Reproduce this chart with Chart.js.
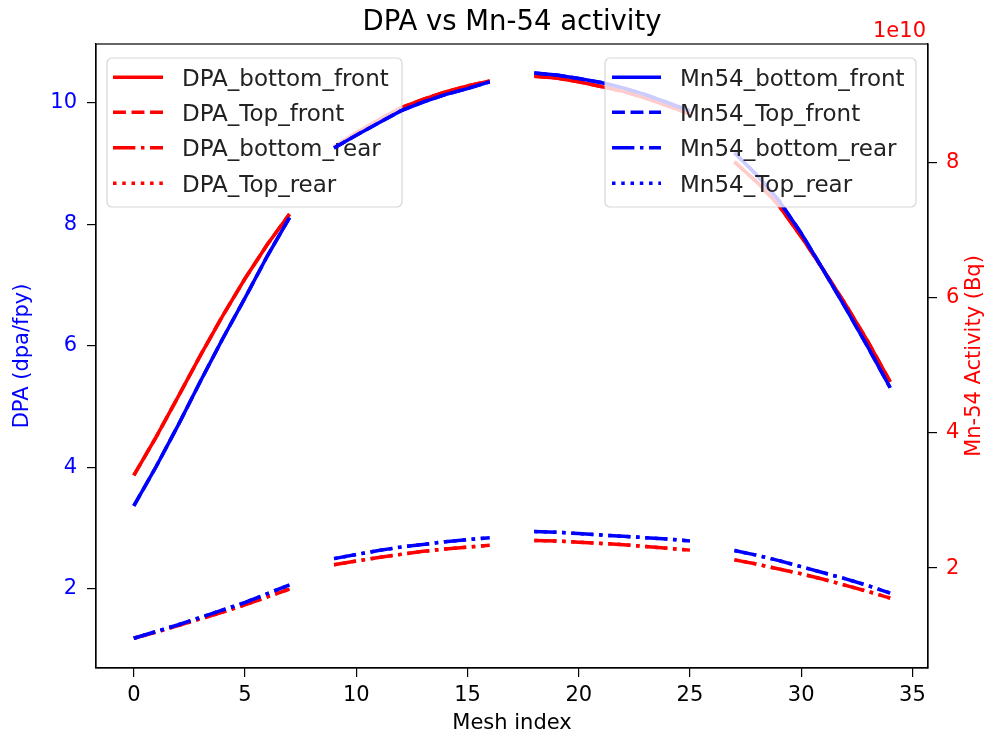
<!DOCTYPE html>
<html><head><meta charset="utf-8">
<script src="https://cdn.jsdelivr.net/npm/chart.js@4.4.1/dist/chart.umd.min.js"></script>
<style>html,body{margin:0;padding:0;background:#fff;}#wrap{width:990px;height:737px;}</style>
</head><body><div id="wrap"><canvas id="c" width="990" height="737"></canvas></div>
<script>
// ---- data ----
const meshIndex = [0,1,2,3,4,5,6,7,8,9,10,11,12,13,14,15,16,17,18,19,20,21,22,23,24,25,26,27,28,29,30,31,32,33,34];
const dpaBottomFront = [3.87,4.50,5.17,5.85,6.50,7.11,7.67,8.17,null,9.28,9.51,9.72,9.92,10.06,10.18,10.28,10.36,null,10.44,10.41,10.35,10.27,10.19,10.08,9.95,9.82,null,9.03,8.70,8.31,7.80,7.25,6.68,6.07,5.41];
const dpaTopFront    = [3.87,4.50,5.17,5.85,6.50,7.11,7.67,8.17,null,9.28,9.51,9.72,9.92,10.06,10.18,10.28,10.36,null,10.44,10.41,10.35,10.27,10.19,10.08,9.95,9.82,null,9.03,8.70,8.31,7.80,7.25,6.68,6.07,5.41];
const dpaBottomRear  = [1.19,1.29,1.40,1.51,1.62,1.74,1.87,2.00,null,2.40,2.46,2.52,2.57,2.62,2.66,2.69,2.72,null,2.80,2.79,2.77,2.75,2.73,2.70,2.67,2.64,null,2.48,2.41,2.33,2.25,2.16,2.06,1.96,1.85];
const dpaTopRear     = [1.19,1.29,1.40,1.51,1.62,1.74,1.87,2.00,null,2.40,2.46,2.52,2.57,2.62,2.66,2.69,2.72,null,2.80,2.79,2.77,2.75,2.73,2.70,2.67,2.64,null,2.48,2.41,2.33,2.25,2.16,2.06,1.96,1.85];
const mn54BottomFront = [2.92e10,3.50e10,4.12e10,4.77e10,5.40e10,6.00e10,6.62e10,7.19e10,null,8.22e10,8.41e10,8.59e10,8.77e10,8.90e10,9.01e10,9.10e10,9.20e10,null,9.33e10,9.30e10,9.25e10,9.19e10,9.11e10,9.01e10,8.89e10,8.77e10,null,8.15e10,7.82e10,7.44e10,6.96e10,6.41e10,5.85e10,5.27e10,4.67e10];
const mn54TopFront    = [2.92e10,3.50e10,4.12e10,4.77e10,5.40e10,6.00e10,6.62e10,7.19e10,null,8.22e10,8.41e10,8.59e10,8.77e10,8.90e10,9.01e10,9.10e10,9.20e10,null,9.33e10,9.30e10,9.25e10,9.19e10,9.11e10,9.01e10,8.89e10,8.77e10,null,8.15e10,7.82e10,7.44e10,6.96e10,6.41e10,5.85e10,5.27e10,4.67e10];
const mn54BottomRear  = [0.96e10,1.06e10,1.16e10,1.27e10,1.38e10,1.49e10,1.62e10,1.75e10,null,2.14e10,2.20e10,2.26e10,2.31e10,2.35e10,2.39e10,2.42e10,2.45e10,null,2.54e10,2.53e10,2.51e10,2.49e10,2.47e10,2.45e10,2.43e10,2.40e10,null,2.26e10,2.19e10,2.11e10,2.02e10,1.93e10,1.84e10,1.74e10,1.63e10];
const mn54TopRear     = [0.96e10,1.06e10,1.16e10,1.27e10,1.38e10,1.49e10,1.62e10,1.75e10,null,2.14e10,2.20e10,2.26e10,2.31e10,2.35e10,2.39e10,2.42e10,2.45e10,null,2.54e10,2.53e10,2.51e10,2.49e10,2.47e10,2.45e10,2.43e10,2.40e10,null,2.26e10,2.19e10,2.11e10,2.02e10,1.93e10,1.84e10,1.74e10,1.63e10];
const xTickValues = [0,5,10,15,20,25,30,35];
const dpaTickValues = [2,4,6,8,10];
const mn54TickValues = [2e10,4e10,6e10,8e10];
const dpaLabels = ['DPA_bottom_front','DPA_Top_front','DPA_bottom_rear','DPA_Top_rear'];
const mn54Labels = ['Mn54_bottom_front','Mn54_Top_front','Mn54_bottom_rear','Mn54_Top_rear'];

// ---- styles ----
const FONT = '"DejaVu Sans", sans-serif';
const K = 2.33; // px per pt
const LW = 1.5 * K;
const DASH = {
  solid: [],
  dashed: [3.7*1.5*K, 1.6*1.5*K],
  dashdot: [6.4*1.5*K, 1.6*1.5*K, 1*1.5*K, 1.6*1.5*K],
  dotted: [1*1.5*K, 1.65*1.5*K]
};
const styles = ['solid','dashed','dashdot','dotted'];
const RED = '#ff0000', BLUE = '#0000ff';

function pts(arr){ return meshIndex.map((x,i)=>({x:x, y:arr[i]})); }

const dpaSeries = [dpaBottomFront, dpaTopFront, dpaBottomRear, dpaTopRear];
const mnSeries = [mn54BottomFront, mn54TopFront, mn54BottomRear, mn54TopRear];
const datasets = [];
dpaSeries.forEach((s,i)=>datasets.push({label:dpaLabels[i], data:pts(s), yAxisID:'y', borderColor:RED, borderDash:DASH[styles[i]], order:7-i, group:'dpa'}));
mnSeries.forEach((s,i)=>datasets.push({label:mn54Labels[i], data:pts(s), yAxisID:'y2', borderColor:BLUE, borderDash:DASH[styles[i]], order:3-i, group:'mn'}));

function drawLegend(ctx, chart, group, box){
  const items = chart.data.datasets.filter(d=>d.group===group);
  ctx.save();
  const r = 5;
  ctx.beginPath();
  ctx.moveTo(box.x0+r, box.y0);
  ctx.arcTo(box.x1, box.y0, box.x1, box.y1, r);
  ctx.arcTo(box.x1, box.y1, box.x0, box.y1, r);
  ctx.arcTo(box.x0, box.y1, box.x0, box.y0, r);
  ctx.arcTo(box.x0, box.y0, box.x1, box.y0, r);
  ctx.closePath();
  ctx.fillStyle = 'rgba(255,255,255,0.8)';
  ctx.fill();
  ctx.strokeStyle = 'rgba(204,204,204,0.8)';
  ctx.lineWidth = 1.2;
  ctx.stroke();
  items.forEach((d,i)=>{
    const y = box.rows[i];
    ctx.strokeStyle = d.borderColor;
    ctx.lineWidth = LW;
    ctx.lineCap = 'butt';
    ctx.setLineDash(d.borderDash);
    ctx.beginPath(); ctx.moveTo(box.hx0, y); ctx.lineTo(box.hx1, y); ctx.stroke();
    ctx.setLineDash([]);
    ctx.fillStyle = '#222';
    ctx.font = '23px ' + FONT;
    ctx.textBaseline = 'alphabetic';
    ctx.textAlign = 'left';
    ctx.fillText(d.label, box.tx, y + 8.4);
  });
  ctx.restore();
}
const rows = [77.3, 112.3, 147.7, 183.3];
const leftBox = {x0:107, x1:402, y0:58, y1:207, hx0:113, hx1:163, tx:182, rows:rows};
const rightBox = {x0:605, x1:916, y0:58, y1:207, hx0:612, hx1:661, tx:680, rows:rows};

let dpaLegendDone = false;
const decor = {
  id:'decor',
  beforeDatasetsDraw(chart){ dpaLegendDone = false; },
  beforeDatasetDraw(chart, args){
    const ds = chart.data.datasets[args.index];
    if (ds.group === 'mn' && !dpaLegendDone){
      dpaLegendDone = true;
      drawLegend(chart.ctx, chart, 'dpa', leftBox);
    }
  },
  afterDatasetsDraw(chart){
    const ctx = chart.ctx;
    if (!dpaLegendDone){ drawLegend(ctx, chart, 'dpa', leftBox); dpaLegendDone = true; }
    drawLegend(ctx, chart, 'mn', rightBox);
    const a = chart.chartArea;
    ctx.save();
    ctx.strokeStyle = '#000'; ctx.lineWidth = 1.2; ctx.setLineDash([]);
    ctx.strokeRect(a.left, a.top, a.right-a.left, a.bottom-a.top);
    // title
    ctx.fillStyle = '#000';
    ctx.font = '27.5px ' + FONT;
    ctx.textAlign = 'center'; ctx.textBaseline = 'alphabetic';
    ctx.fillText('DPA vs Mn-54 activity', (a.left+a.right)/2, 30);
    // offset text
    ctx.fillStyle = RED;
    ctx.font = '21px ' + FONT;
    ctx.textAlign = 'right';
    ctx.fillText('1e10', a.right - 2, 37);
    // right axis title
    ctx.translate(975, (a.top+a.bottom)/2);
    ctx.rotate(-Math.PI/2);
    ctx.textAlign = 'center'; ctx.textBaseline = 'middle';
    ctx.fillText('Mn-54 Activity (Bq)', 0, 0);
    ctx.restore();
  }
};

const tickGrid = {display:true, drawOnChartArea:false, drawTicks:true, tickLength:9, color:'#000', lineWidth:1.2};
new Chart(document.getElementById('c'), {
  type:'line',
  data:{datasets:datasets},
  options:{
    responsive:false, animation:false, devicePixelRatio:1,
    layout:{padding:{top:44,left:0,right:0,bottom:0}},
    plugins:{legend:{display:false}, title:{display:false}, tooltip:{enabled:false}},
    elements:{point:{radius:0,hoverRadius:0}, line:{tension:0, borderWidth:LW, borderCapStyle:'butt', fill:false}},
    spanGaps:false,
    scales:{
      x:{type:'linear', min:-1.7, max:35.7,
        afterBuildTicks:s=>{ s.ticks = xTickValues.map(v=>({value:v})); },
        afterFit:s=>{ s.height = 69; },
        grid:tickGrid, border:{display:true,color:'#000',width:1.2},
        ticks:{color:'#000', font:{family:FONT,size:21}, padding:6, maxRotation:0, callback:v=>String(v)},
        title:{display:true, text:'Mesh index', color:'#000', font:{family:FONT,size:21}, padding:{top:0,bottom:1}}
      },
      y:{type:'linear', position:'left', min:0.70, max:10.97,
        afterBuildTicks:s=>{ s.ticks = dpaTickValues.map(v=>({value:v})); },
        afterFit:s=>{ s.width = 96; },
        grid:tickGrid, border:{display:true,color:'#000',width:1.2},
        ticks:{color:BLUE, font:{family:FONT,size:21}, padding:10, callback:v=>String(v)},
        title:{display:true, text:'DPA (dpa/fpy)', color:BLUE, font:{family:FONT,size:21}, padding:{top:10,bottom:0}}
      },
      y2:{type:'linear', position:'right', min:0.52e10, max:9.76e10,
        afterBuildTicks:s=>{ s.ticks = mn54TickValues.map(v=>({value:v})); },
        afterFit:s=>{ s.width = 62; },
        grid:tickGrid, border:{display:true,color:'#000',width:1.2},
        ticks:{color:RED, font:{family:FONT,size:21}, padding:9, callback:v=>String(Math.round(v/1e10))},
        title:{display:false}
      }
    }
  },
  plugins:[decor]
});
</script></body></html>
